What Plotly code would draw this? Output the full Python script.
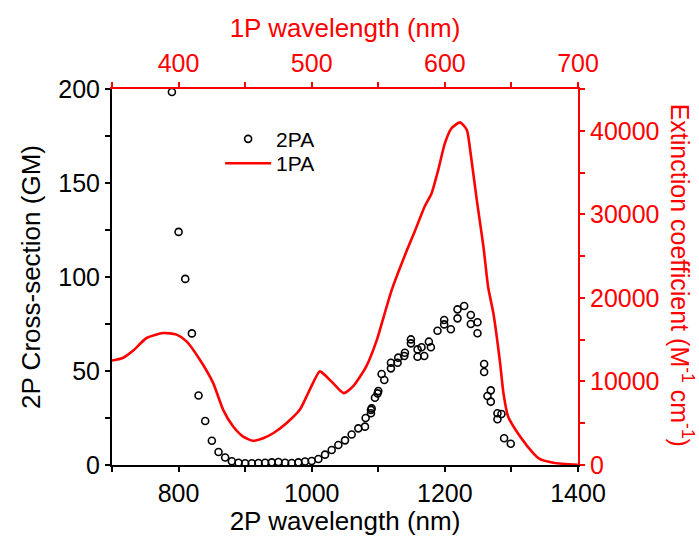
import plotly.graph_objects as go

# Two-photon absorption cross-section (GM) vs 2P excitation wavelength (nm)
tpa_wavelength = [790, 800, 810, 820, 830, 840, 850, 860, 870, 880, 890, 900, 910, 920, 930,
                  940, 950, 960, 970, 980, 990, 1000, 1010, 1020, 1030, 1040, 1050, 1060, 1070,
                  1080, 1081, 1089, 1089, 1090, 1095, 1099, 1100, 1105, 1109, 1119, 1119, 1129,
                  1130, 1139, 1140, 1149, 1149, 1159, 1159, 1165, 1169, 1176, 1179, 1189, 1199,
                  1199, 1209, 1219, 1219, 1229, 1239, 1239, 1249, 1249, 1259, 1259, 1264, 1269,
                  1269, 1279, 1279, 1285, 1289, 1299]
tpa_cross_section = [198.4, 124.0, 99.0, 70.0, 37.0, 23.4, 12.9, 6.9, 4.0, 2.0, 1.2, 0.9, 0.9, 1.1, 1.2,
                     1.4, 1.6, 1.2, 1.1, 1.4, 1.9, 2.1, 3.2, 5.5, 8.0, 10.6, 13.1, 16.2, 19.5,
                     20.4, 25.0, 27.5, 29.3, 30.1, 35.8, 38.1, 39.4, 48.4, 45.2, 51.4, 54.4, 54.4,
                     57.1, 58.0, 59.7, 66.8, 64.7, 57.6, 61.5, 62.6, 58.0, 65.6, 62.6, 71.4, 77.1,
                     74.8, 72.2, 78.0, 82.8, 84.6, 79.8, 75.0, 75.9, 70.1, 53.7, 49.5, 36.7, 39.7,
                     33.7, 27.5, 24.3, 27.1, 14.2, 11.3]

# One-photon absorption spectrum: extinction coefficient vs 1P wavelength (nm)
opa_wavelength = [350, 358, 366, 376, 388.5, 398.5, 406, 416, 426, 433.5, 441, 448.5, 456, 463.5,
                  471, 481, 491, 498.5, 506, 511, 516, 524, 531, 541, 549, 554, 560, 571.5, 577.5,
                  585, 590, 595, 600, 605, 611.5, 616.5, 619, 624, 629, 632.5, 636.5, 641.5, 644,
                  647.5, 656.5, 666.5, 671.5, 681.5, 700]
opa_extinction = [12500, 12800, 13700, 15200, 15800, 15600, 14800, 12600, 9800, 6600, 4600, 3400,
                  2900, 3200, 3800, 5000, 6600, 9000, 11200, 10600, 9800, 8600, 9400, 11800, 15000,
                  17700, 20900, 25700, 28000, 31000, 32500, 35300, 38500, 40300, 41000, 40100,
                  37700, 31700, 26100, 21300, 18100, 12200, 8600, 5800, 3400, 1400, 700, 280, 20]

FONT = "Arial, Liberation Sans, sans-serif"
RED = "#ff0000"

fig = go.Figure()

fig.add_trace(go.Scatter(
    x=tpa_wavelength, y=tpa_cross_section, mode="markers", name="2PA",
    marker=dict(symbol="circle-open", size=7, color="black", line=dict(width=1.6, color="black")),
    xaxis="x", yaxis="y", legend="legend",
))
fig.add_trace(go.Scatter(
    x=opa_wavelength, y=opa_extinction, mode="lines", name="1PA",
    line=dict(color=RED, width=2.6, shape="spline", smoothing=0.6),
    xaxis="x2", yaxis="y2", legend="legend2",
))

axis_common = dict(showgrid=False, zeroline=False, ticks="outside", ticklen=5, tickwidth=1.5,
                   mirror=False, showline=True, linewidth=2, automargin=False)

legend_common = dict(xanchor="left", yanchor="top", bgcolor="rgba(0,0,0,0)",
                     font=dict(size=21, color="black"), itemwidth=46)

fig.update_layout(
    width=699, height=536,
    margin=dict(l=112, r=121, t=89, b=71),
    paper_bgcolor="white", plot_bgcolor="white",
    font=dict(family=FONT, size=25, color="black"),
    showlegend=True,
    legend=dict(**legend_common, x=0.232, y=0.921),
    legend2=dict(**legend_common, x=0.232, y=0.856),
    xaxis=dict(
        **axis_common, range=[700, 1400], dtick=200, tick0=800,
        linecolor="black", tickcolor="black",
        minor=dict(dtick=100, ticks="outside", ticklen=5, tickwidth=1.5, tickcolor="black"),
        tickfont=dict(size=25, color="black"),
        title=dict(text="2P wavelength (nm)", font=dict(size=26, color="black"), standoff=4),
    ),
    yaxis=dict(
        **axis_common, range=[0, 200], dtick=50,
        linecolor="black", tickcolor="black",
        minor=dict(dtick=25, ticks="outside", ticklen=5, tickwidth=1.5, tickcolor="black"),
        tickfont=dict(size=25, color="black"),
        title=dict(text="2P Cross-section (GM)", font=dict(size=26, color="black"), standoff=10),
    ),
    xaxis2=dict(
        **axis_common, overlaying="x", side="top", anchor="y", range=[350, 700], dtick=100, tick0=400,
        linecolor=RED, tickcolor=RED,
        minor=dict(dtick=50, ticks="outside", ticklen=5, tickwidth=1.5, tickcolor=RED),
        tickfont=dict(size=25, color=RED),
        title=dict(text="1P wavelength (nm)", font=dict(size=26, color=RED), standoff=4),
    ),
    yaxis2=dict(
        **axis_common, overlaying="y", side="right", anchor="x", range=[0, 45000], dtick=10000,
        tickformat="d",
        linecolor=RED, tickcolor=RED,
        minor=dict(dtick=5000, ticks="outside", ticklen=5, tickwidth=1.5, tickcolor=RED),
        tickfont=dict(size=25, color=RED),
    ),
)

# Right-axis title, reading top to bottom
fig.add_annotation(
    text="Extinction coefficient (M<sup>-1</sup> cm<sup>-1</sup>)",
    xref="paper", yref="paper", x=1.222, y=0.505, xanchor="center", yanchor="middle",
    textangle=90, showarrow=False, font=dict(family=FONT, size=25, color=RED),
)

fig.write_html("out.html")
